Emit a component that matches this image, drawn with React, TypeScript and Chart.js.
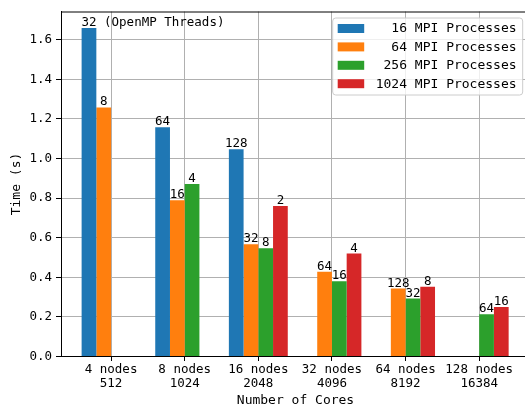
import { useEffect, useRef } from "react";
import { Chart, registerables } from "chart.js";

Chart.register(...registerables);

// Node counts and total core counts for each group of bars
const nodeLabels = ["4 nodes", "8 nodes", "16 nodes", "32 nodes", "64 nodes", "128 nodes"];
const coreCounts = ["512", "1024", "2048", "4096", "8192", "16384"];

// MPI process counts, one series each
const mpiProcesses = [16, 64, 256, 1024];

// Run time in seconds per series (null = configuration not run)
const time16 = [1.66, 1.158, 1.047, null, null, null];
const time64 = [1.258, 0.79, 0.567, 0.428, 0.343, null];
const time256 = [null, 0.872, 0.547, 0.38, 0.293, 0.213];
const time1024 = [null, null, 0.76, 0.52, 0.353, 0.25];

// OpenMP threads per MPI process, written above each bar
const threads16 = [32, 64, 128, null, null, null];
const threads64 = [8, 16, 32, 64, 128, null];
const threads256 = [null, 4, 8, 16, 32, 64];
const threads1024 = [null, null, 2, 4, 8, 16];
const threadsNote = " (OpenMP Threads)";

const yTicks = [0, 0.2, 0.4, 0.6, 0.8, 1.0, 1.2, 1.4, 1.6];

const seriesTimes = [time16, time64, time256, time1024];
const seriesThreads = [threads16, threads64, threads256, threads1024];
const seriesColors = ["#1f77b4", "#ff7f0e", "#2ca02c", "#d62728"];

const MONO = '"DejaVu Sans Mono", monospace';
const GRID = "#b0b0b0";

// The axes run a few pixels past the visible window on the right,
// so the canvas is a little wider than its clipping container.
const VIEW_W = 525;
const VIEW_H = 409;
const CANVAS_W = 530;

const annotations = {
  id: "annotations",
  afterDraw(chart: any) {
    const { ctx, chartArea } = chart;
    ctx.save();

    // top spine
    ctx.strokeStyle = "#000";
    ctx.lineWidth = 1;
    ctx.beginPath();
    ctx.moveTo(chartArea.left, chartArea.top + 0.5);
    ctx.lineTo(chartArea.right, chartArea.top + 0.5);
    ctx.stroke();

    // thread counts above the bars
    ctx.font = `12.5px ${MONO}`;
    ctx.fillStyle = "#000";
    ctx.textBaseline = "alphabetic";
    chart.data.datasets.forEach((_ds: any, di: number) => {
      const meta = chart.getDatasetMeta(di);
      meta.data.forEach((bar: any, i: number) => {
        const n = seriesThreads[di][i];
        if (n == null || seriesTimes[di][i] == null) return;
        const txt = String(n);
        const y = bar.y - 2;
        if (di === 0 && i === 0) {
          const w = ctx.measureText(txt).width;
          ctx.textAlign = "left";
          ctx.fillText(txt + threadsNote, bar.x - w / 2, y);
        } else {
          ctx.textAlign = "center";
          ctx.fillText(txt, bar.x, y);
        }
      });
    });

    // legend box in the upper right corner
    const rowH = 18.4;
    const boxW = 190;
    const boxH = 77;
    const bx = chartArea.right - 7.3 - boxW;
    const by = chartArea.top + 6.5;
    const r = 3;
    ctx.beginPath();
    ctx.moveTo(bx + r, by);
    ctx.lineTo(bx + boxW - r, by);
    ctx.arcTo(bx + boxW, by, bx + boxW, by + r, r);
    ctx.lineTo(bx + boxW, by + boxH - r);
    ctx.arcTo(bx + boxW, by + boxH, bx + boxW - r, by + boxH, r);
    ctx.lineTo(bx + r, by + boxH);
    ctx.arcTo(bx, by + boxH, bx, by + boxH - r, r);
    ctx.lineTo(bx, by + r);
    ctx.arcTo(bx, by, bx + r, by, r);
    ctx.closePath();
    ctx.fillStyle = "rgba(255,255,255,0.8)";
    ctx.fill();
    ctx.strokeStyle = "#cccccc";
    ctx.lineWidth = 1;
    ctx.stroke();

    ctx.font = `13px ${MONO}`;
    ctx.textAlign = "left";
    ctx.textBaseline = "middle";
    chart.data.datasets.forEach((ds: any, di: number) => {
      const cy = by + 10.5 + di * rowH;
      ctx.fillStyle = ds.backgroundColor;
      ctx.fillRect(bx + 5, cy - 4.5, 26.5, 9);
      ctx.fillStyle = "#000";
      ctx.fillText(ds.label, bx + 43, cy + 0.5);
    });

    ctx.restore();
  },
};

export default function App() {
  const canvasRef = useRef<HTMLCanvasElement | null>(null);

  useEffect(() => {
    const canvas = canvasRef.current;
    if (!canvas) return;

    const datasets = seriesTimes.map((times, di) => ({
      label: `${String(mpiProcesses[di]).padStart(4, " ")} MPI Processes`,
      data: times.map((y, i) => ({ x: i, y })),
      backgroundColor: seriesColors[di],
      borderWidth: 0,
      categoryPercentage: 0.8,
      barPercentage: 1.0,
    }));

    const yMax = Math.max(...seriesTimes.flat().filter((v) => v != null) as number[]) * 1.05;

    const chart = new Chart(canvas, {
      type: "bar",
      data: { datasets },
      plugins: [annotations],
      options: {
        animation: false,
        responsive: false,
        devicePixelRatio: 1,
        layout: { padding: { top: 7, right: 0, left: 0, bottom: 0 } },
        plugins: {
          legend: { display: false },
          tooltip: { enabled: false },
        },
        scales: {
          x: {
            type: "linear",
            min: -0.68,
            max: 5.69,
            offset: false,
            z: 1,
            afterBuildTicks: (scale: any) => {
              scale.ticks = nodeLabels.map((_, i) => ({ value: i }));
            },
            afterFit: (scale: any) => {
              scale.height = 52.5;
            },
            grid: {
              offset: false,
              color: GRID,
              lineWidth: 1,
              drawTicks: true,
              tickLength: 4.5,
              tickColor: "#000",
              tickWidth: 1,
            },
            border: { display: true, color: "#000", width: 1 },
            ticks: {
              autoSkip: false,
              maxRotation: 0,
              padding: 2,
              color: "#000",
              font: { family: MONO, size: 12.5, lineHeight: 1.1 },
              callback: (v: any) => [nodeLabels[v], coreCounts[v]],
            },
            title: {
              display: true,
              text: "Number of Cores",
              color: "#000",
              font: { family: MONO, size: 13, lineHeight: 1.2 },
              padding: { top: 0, bottom: 1 },
            },
          },
          y: {
            type: "linear",
            min: 0,
            max: yMax,
            z: 1,
            afterBuildTicks: (scale: any) => {
              scale.ticks = yTicks.map((v) => ({ value: v }));
            },
            afterFit: (scale: any) => {
              scale.width = 61;
            },
            grid: {
              offset: false,
              color: GRID,
              lineWidth: 1,
              drawTicks: true,
              tickLength: 5,
              tickColor: "#000",
              tickWidth: 1,
            },
            border: { display: true, color: "#000", width: 1 },
            ticks: {
              padding: 4,
              color: "#000",
              font: { family: MONO, size: 12.5 },
              callback: (v: any) => Number(v).toFixed(1),
            },
            title: {
              display: true,
              text: "Time (s)",
              color: "#000",
              font: { family: MONO, size: 13, lineHeight: 1.2 },
              padding: { top: 9, bottom: 0 },
            },
          },
        },
      } as any,
    });

    return () => chart.destroy();
  }, []);

  return (
    <div
      style={{
        position: "absolute",
        left: 0,
        top: 0,
        width: VIEW_W,
        height: VIEW_H,
        overflow: "hidden",
      }}
    >
      <canvas ref={canvasRef} width={CANVAS_W} height={VIEW_H} style={{ display: "block" }} />
    </div>
  );
}
